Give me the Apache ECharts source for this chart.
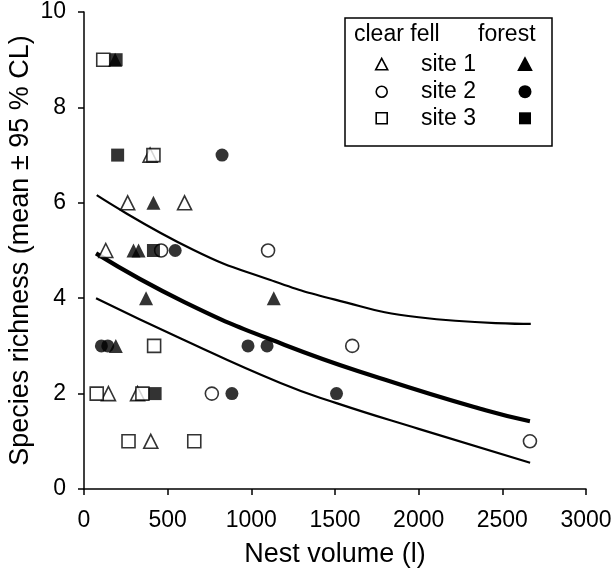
<!DOCTYPE html>
<html><head><meta charset="utf-8">
<script src="https://cdn.jsdelivr.net/npm/echarts@6/dist/echarts.min.js"></script>
<style>html,body{margin:0;padding:0;background:#fff}#c{width:613px;height:581px}</style>
</head><body><div id="c"></div>
<script>
// Data: [nest volume (l), species richness]
const clearFellSite1 = [[130,5],[261,6],[601,6],[146,2],[320,2],[399,1],[395,7]];
const clearFellSite2 = [[461,5],[1100,5],[764,2],[1603,3],[2665,1]];
const clearFellSite3 = [[115,9],[415,7],[419,3],[76,2],[349,2],[266,1],[659,1]];
const forestSite1 = [[186,9],[415,6],[296,5],[326,5],[371,4],[1134,4],[190,3]];
const forestSite2 = [[825,7],[545,5],[104,3],[142,3],[980,3],[1094,3],[884,2],[1509,2]];
const forestSite3 = [[192,9],[201,7],[415,5],[425,2]];
// fitted curve and 95% CL bands
const fitX = [72,600,1200,1800,2400,2665];
const fitY = [4.94,3.92,3.02,2.29,1.65,1.42];
const upperX = [76,655,1114,1500,2000,2670];
const upperY = [6.16,5.01,4.38,3.97,3.6,3.46];
const lowerX = [72,575,1174,1509,2000,2666];
const lowerY = [4.0,3.16,2.22,1.80,1.26,0.55];
const xTicks = [0,500,1000,1500,2000,2500,3000];
const yTicks = [0,2,4,6,8,10];

const zip = (xs, ys) => xs.map((x,i)=>[x, ys[i]]);
const FONT = 'Liberation Sans, Arial, sans-serif';
const open = {color:'#fff', borderColor:'#000', borderWidth:1.6};
const filled = {color:'#000', borderColor:'#000', borderWidth:0};
const sc = (name, data, symbol, style) => ({
  name, type:'scatter', data, symbol, symbolSize: symbol==='triangle'?14:13,
  itemStyle: style, z: 5, silent:true
});
const ln = (name, data, w) => ({
  name, type:'line', data, smooth:0.5, showSymbol:false, symbol:'none',
  lineStyle:{color:'#000', width:w}, z:3, silent:true
});

const chart = echarts.init(document.getElementById('c'), null, {renderer:'canvas'});
const lx = 381.7, rx = 525, rows = [65, 91.7, 118.3];
const LF = '23px ' + FONT;
const tri = (cx, cy, s, fill) => ({type:'polygon', shape:{points:[[cx,cy-s*0.55],[cx-s/2,cy+s*0.4],[cx+s/2,cy+s*0.4]]},
  style:{fill: fill?'#000':'#fff', stroke:'#000', lineWidth:1.6}});
chart.setOption({
  animation:false,
  backgroundColor:'#fff',
  grid:{left:84, right:27, top:12, bottom:92, containLabel:false, outerBoundsMode:'none'},
  xAxis:{type:'value', min:xTicks[0], max:xTicks[xTicks.length-1], interval:500,
    name:'Nest volume (l)', nameLocation:'middle', nameGap:52, nameMoveOverlap:false,
    nameTextStyle:{fontFamily:FONT, fontSize:27, color:'#000'},
    axisLine:{lineStyle:{color:'#000', width:1.5}},
    axisTick:{inside:false, length:6, lineStyle:{color:'#000', width:1.5}},
    axisLabel:{fontFamily:FONT, fontSize:23, color:'#000', margin:20, formatter:v=>String(v)},
    splitLine:{show:false}},
  yAxis:{type:'value', min:yTicks[0], max:yTicks[yTicks.length-1], interval:2,
    name:'Species richness (mean \u00b1 95 % CL)', nameLocation:'middle', nameGap:50, nameMoveOverlap:false,
    nameTextStyle:{fontFamily:FONT, fontSize:27, color:'#000'},
    axisLine:{show:true, lineStyle:{color:'#000', width:1.5}},
    axisTick:{show:true, inside:false, length:6, lineStyle:{color:'#000', width:1.5}},
    axisLabel:{fontFamily:FONT, fontSize:23, color:'#000', margin:18, formatter:v=>String(v)},
    splitLine:{show:false}},
  series:[
    ln('upper', zip(upperX, upperY), 2.2),
    ln('fit', zip(fitX, fitY), 4.2),
    ln('lower', zip(lowerX, lowerY), 2.2),
    sc('clear fell site 1', clearFellSite1, 'triangle', open),
    sc('clear fell site 2', clearFellSite2, 'circle', open),
    sc('clear fell site 3', clearFellSite3, 'rect', open),
    sc('forest site 1', forestSite1, 'triangle', filled),
    sc('forest site 2', forestSite2, 'circle', filled),
    sc('forest site 3', forestSite3, 'rect', filled)
  ],
  graphic:[
    {type:'rect', shape:{x:345, y:18, width:207, height:128}, style:{fill:'#fff', stroke:'#000', lineWidth:1.5}, z:10},
    {type:'text', x:354, y:35, style:{text:'clear fell', font:LF, fill:'#000', textVerticalAlign:'middle'}, z:11},
    {type:'text', x:478, y:35, style:{text:'forest', font:LF, fill:'#000', textVerticalAlign:'middle'}, z:11},
    {type:'text', x:421, y:rows[0], style:{text:'site 1', font:LF, fill:'#000', textVerticalAlign:'middle'}, z:11},
    {type:'text', x:421, y:rows[1], style:{text:'site 2', font:LF, fill:'#000', textVerticalAlign:'middle'}, z:11},
    {type:'text', x:421, y:rows[2], style:{text:'site 3', font:LF, fill:'#000', textVerticalAlign:'middle'}, z:11},
    Object.assign(tri(lx, rows[0], 12, false), {z:11}),
    {type:'circle', shape:{cx:lx, cy:rows[1], r:5.5}, style:{fill:'#fff', stroke:'#000', lineWidth:1.6}, z:11},
    {type:'rect', shape:{x:lx-5.5, y:rows[2]-5.5, width:11, height:11}, style:{fill:'#fff', stroke:'#000', lineWidth:1.6}, z:11},
    Object.assign(tri(rx, rows[0], 13, true), {z:11}),
    {type:'circle', shape:{cx:rx, cy:rows[1], r:6.5}, style:{fill:'#000'}, z:11},
    {type:'rect', shape:{x:rx-6, y:rows[2]-6, width:12, height:12}, style:{fill:'#000'}, z:11}
  ]
});
</script></body></html>
